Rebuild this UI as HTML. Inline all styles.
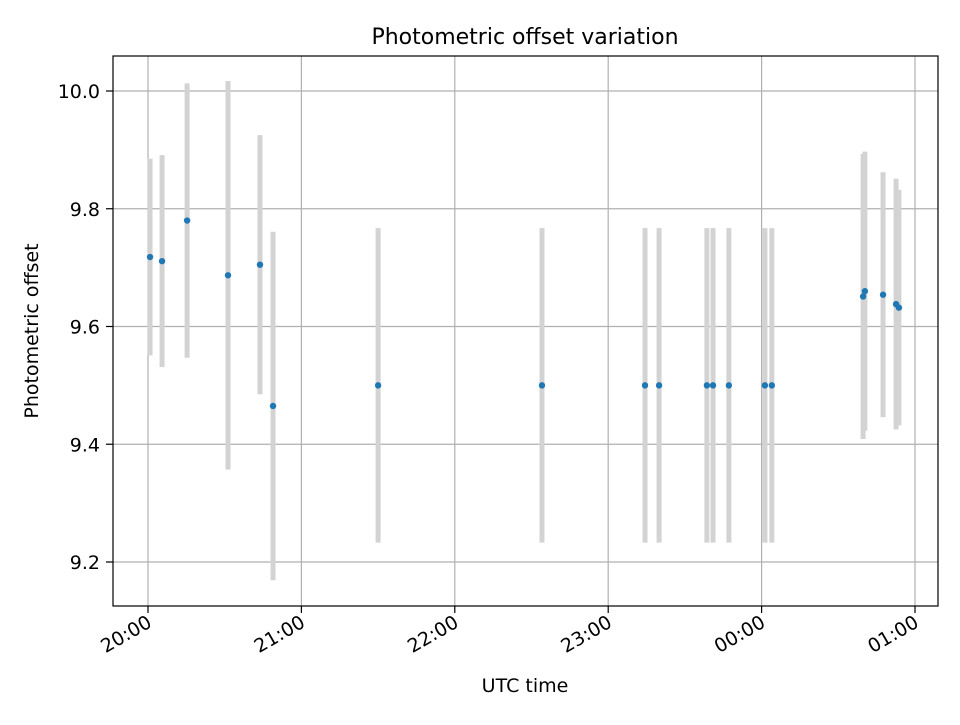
<!DOCTYPE html>
<html><head><meta charset="utf-8"><style>
body{margin:0;background:#fff}
</style></head><body>
<svg id="chart" width="960" height="720" xmlns="http://www.w3.org/2000/svg" style="font-family:'DejaVu Sans','Liberation Sans',sans-serif">
<rect width="960" height="720" fill="#fff"/>
<text x="525" y="44" text-anchor="middle" font-size="22">Photometric offset variation</text>
<text x="525" y="692" text-anchor="middle" font-size="19">UTC time</text>
<text transform="translate(38,331) rotate(-90)" text-anchor="middle" font-size="19">Photometric offset</text>
<g id="grid"></g>
<g id="errs"></g>
<g id="pts"></g>
<rect x="113" y="56" width="825" height="550" fill="none" stroke="#000" stroke-width="1.2"/>
<g id="ticks"></g>
</svg>
<script>
const minutes=[0.8,5.5,15.3,31.3,43.8,48.9,90,154.1,194.4,199.9,218.6,221,227.2,241.3,244,279.7,280.4,287.5,292.6,293.7];
const values=[9.718,9.711,9.780,9.687,9.705,9.465,9.5,9.5,9.5,9.5,9.5,9.5,9.5,9.5,9.5,9.651,9.660,9.654,9.638,9.632];
const errors=[0.167,0.18,0.233,0.33,0.22,0.296,0.267,0.267,0.267,0.267,0.267,0.267,0.267,0.267,0.267,0.242,0.237,0.208,0.213,0.2];
const xTickLabels=["20:00","21:00","22:00","23:00","00:00","01:00"];
const xTickMinutes=[0,60,120,180,240,300];
const yTicks=[9.2,9.4,9.6,9.8,10.0];
const yTickLabels=["9.2","9.4","9.6","9.8","10.0"];
const NS="http://www.w3.org/2000/svg";
const xs=m=>148+m*(767/300);
const ys=v=>91+(10-v)*588.75;
function mk(p,t,a){const e=document.createElementNS(NS,t);for(const k in a)e.setAttribute(k,a[k]);document.getElementById(p).appendChild(e);return e;}
xTickMinutes.forEach((m,i)=>{
 const x=xs(m);
 const g=mk('grid','line',{x1:x,x2:x,y1:56,y2:606,stroke:'#b0b0b0','stroke-width':1.2});
 
 
 const t=mk('ticks','line',{x1:x,x2:x,y1:606,y2:613,stroke:'#000','stroke-width':1.2});
 
 
 const l=mk('ticks','text',{transform:`translate(${x+5},${626}) rotate(-30)`,'text-anchor':'end','font-size':19});
 
 
 l.textContent=xTickLabels[i];
});
yTicks.forEach((v,i)=>{
 const y=ys(v);
 const g=mk('grid','line',{x1:113,x2:938,y1:y,y2:y,stroke:'#b0b0b0','stroke-width':1.2});
 
 
 const t=mk('ticks','line',{x1:106,x2:113,y1:y,y2:y,stroke:'#000','stroke-width':1.2});
 
 
 const l=mk('ticks','text',{x:100,y:y+7,'text-anchor':'end','font-size':19});
 
 
 l.textContent=yTickLabels[i];
});
minutes.forEach((m,i)=>{
 const x=xs(m);
 const e=mk('errs','line',{x1:x,x2:x,y1:ys(values[i]+errors[i]),y2:ys(values[i]-errors[i]),stroke:'#d3d3d3','stroke-width':5});
 
 
 const c=mk('pts','circle',{cx:x,cy:ys(values[i]),r:3.2,fill:'#1f77b4'});
 
 
});
</script>
</body></html>
